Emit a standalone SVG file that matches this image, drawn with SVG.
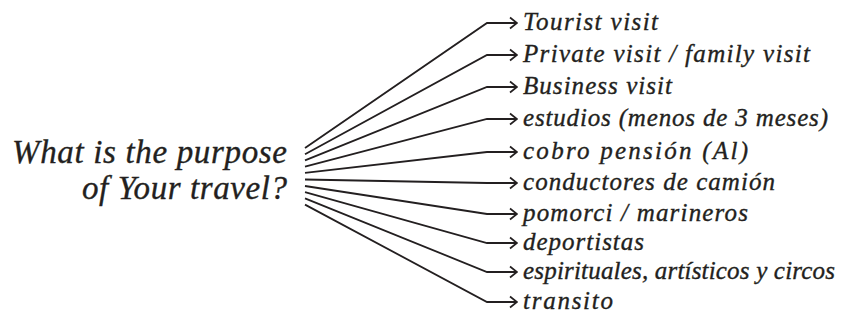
<svg xmlns="http://www.w3.org/2000/svg" width="841" height="321" viewBox="0 0 841 321">
<style>
.t{font-family:"Liberation Serif","Times New Roman",serif;font-style:italic;fill:#231f20;stroke:#231f20;stroke-width:0.35}
.lab{font-size:25px}
.title{font-size:33px}
.c{fill:none;stroke:#231f20;stroke-width:1.8;stroke-linejoin:miter}
</style>
<defs>
<marker id="ah" viewBox="0 0 11 14" refX="10" refY="7" markerWidth="11" markerHeight="14" markerUnits="userSpaceOnUse" orient="auto">
<path d="M3,1.5 L10,7 L3,12.5" fill="none" stroke="#231f20" stroke-width="1.7"/>
</marker>
</defs>
<g id="question">
<text class="t title" x="287" y="163" text-anchor="end" textLength="275" lengthAdjust="spacing">What is the purpose</text>
<text class="t title" x="287" y="199" text-anchor="end" textLength="205" lengthAdjust="spacing">of Your travel?</text>
</g>
<g id="connectors">
<polyline class="c" points="305,148 487,23 517,23" marker-end="url(#ah)"/>
<polyline class="c" points="305,154.2 487,55 517,55" marker-end="url(#ah)"/>
<polyline class="c" points="305,160.4 487,87 517,87" marker-end="url(#ah)"/>
<polyline class="c" points="305,166.6 487,119 517,119" marker-end="url(#ah)"/>
<polyline class="c" points="305,172.8 487,152 517,152" marker-end="url(#ah)"/>
<polyline class="c" points="305,179.5 487,183 517,183" marker-end="url(#ah)"/>
<polyline class="c" points="305,186 487,214 517,214" marker-end="url(#ah)"/>
<polyline class="c" points="305,192.2 487,243 517,243" marker-end="url(#ah)"/>
<polyline class="c" points="305,198.4 487,272 517,272" marker-end="url(#ah)"/>
<polyline class="c" points="305,204.6 487,302 517,302" marker-end="url(#ah)"/>
</g>
<g id="n1"><text class="t lab" x="523" y="30" textLength="135" lengthAdjust="spacing">Tourist visit</text></g>
<g id="n2"><text class="t lab" x="523" y="62" textLength="287" lengthAdjust="spacing">Private visit / family visit</text></g>
<g id="n3"><text class="t lab" x="523" y="94" textLength="149" lengthAdjust="spacing">Business visit</text></g>
<g id="n4"><text class="t lab" x="523" y="126" textLength="305" lengthAdjust="spacing">estudios (menos de 3 meses)</text></g>
<g id="n5"><text class="t lab" x="523" y="159" textLength="225" lengthAdjust="spacing">cobro pensión (Al)</text></g>
<g id="n6"><text class="t lab" x="523" y="190" textLength="252" lengthAdjust="spacing">conductores de camión</text></g>
<g id="n7"><text class="t lab" x="523" y="221" textLength="225" lengthAdjust="spacing">pomorci / marineros</text></g>
<g id="n8"><text class="t lab" x="523" y="250" textLength="121" lengthAdjust="spacing">deportistas</text></g>
<g id="n9"><text class="t lab" x="523" y="279" textLength="312" lengthAdjust="spacing">espirituales, artísticos y circos</text></g>
<g id="n10"><text class="t lab" x="523" y="309" textLength="90" lengthAdjust="spacing">transito</text></g>
</svg>
